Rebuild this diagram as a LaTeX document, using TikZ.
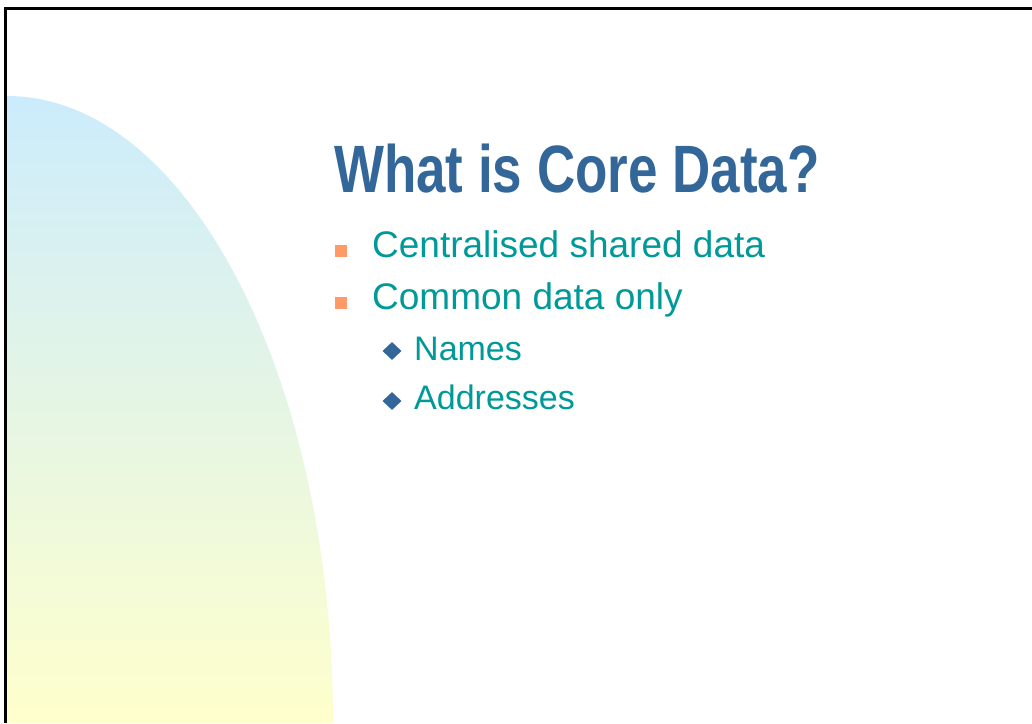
\documentclass[tikz,border=0pt]{standalone}
\usepackage{fontspec}
\setmainfont{Liberation Sans}
\usepackage{graphicx}
\usepackage{xcolor}
\usepackage{tikz}
\usetikzlibrary{shapes.geometric}

\definecolor{titleblue}{HTML}{336699}
\definecolor{textteal}{HTML}{009999}
\definecolor{bulletorange}{HTML}{FF9966}
\definecolor{skyblue}{HTML}{CCECFC}
\definecolor{paleyellow}{HTML}{FFFFCC}

\begin{document}
\begin{tikzpicture}[x=1pt,y=1pt,
  item/.style={anchor=base west,inner sep=0pt,text=textteal,font=\fontsize{37}{44}\selectfont},
  subitem/.style={anchor=base west,inner sep=0pt,text=textteal,font=\fontsize{34}{40}\selectfont},
  sqbullet/.style={fill=bulletorange,minimum size=12pt,inner sep=0pt},
  dmbullet/.style={diamond,fill=titleblue,minimum width=19pt,minimum height=18pt,inner sep=0pt}]
\useasboundingbox (0,0) rectangle (1032,723);
\fill[white] (0,0) rectangle (1032,723);
% quarter ellipse backdrop
\shade[top color=skyblue,bottom color=paleyellow] (7,0) -- (7,627) arc[start angle=90,end angle=0,x radius=326,y radius=627] -- cycle;
% frame
\draw[line width=3pt] (5.5,0) -- (5.5,714.5) -- (1032,714.5);
\node[anchor=base west,inner sep=0pt,text=titleblue,font=\bfseries\fontsize{67}{80}\selectfont] (title) at (334,530) {\scalebox{0.79}[1]{What is Core Data?}};
\node[sqbullet] (b1) at (341,472) {};
\node[item] (t1) at (372,465) {Centralised shared data};
\node[sqbullet] (b2) at (341,420) {};
\node[item] (t2) at (372,413) {Common data only};
\node[dmbullet] (d1) at (392,372) {};
\node[subitem] (s1) at (414,362) {Names};
\node[dmbullet] (d2) at (392,322) {};
\node[subitem] (s2) at (414,313) {Addresses};
\end{tikzpicture}
\end{document}
